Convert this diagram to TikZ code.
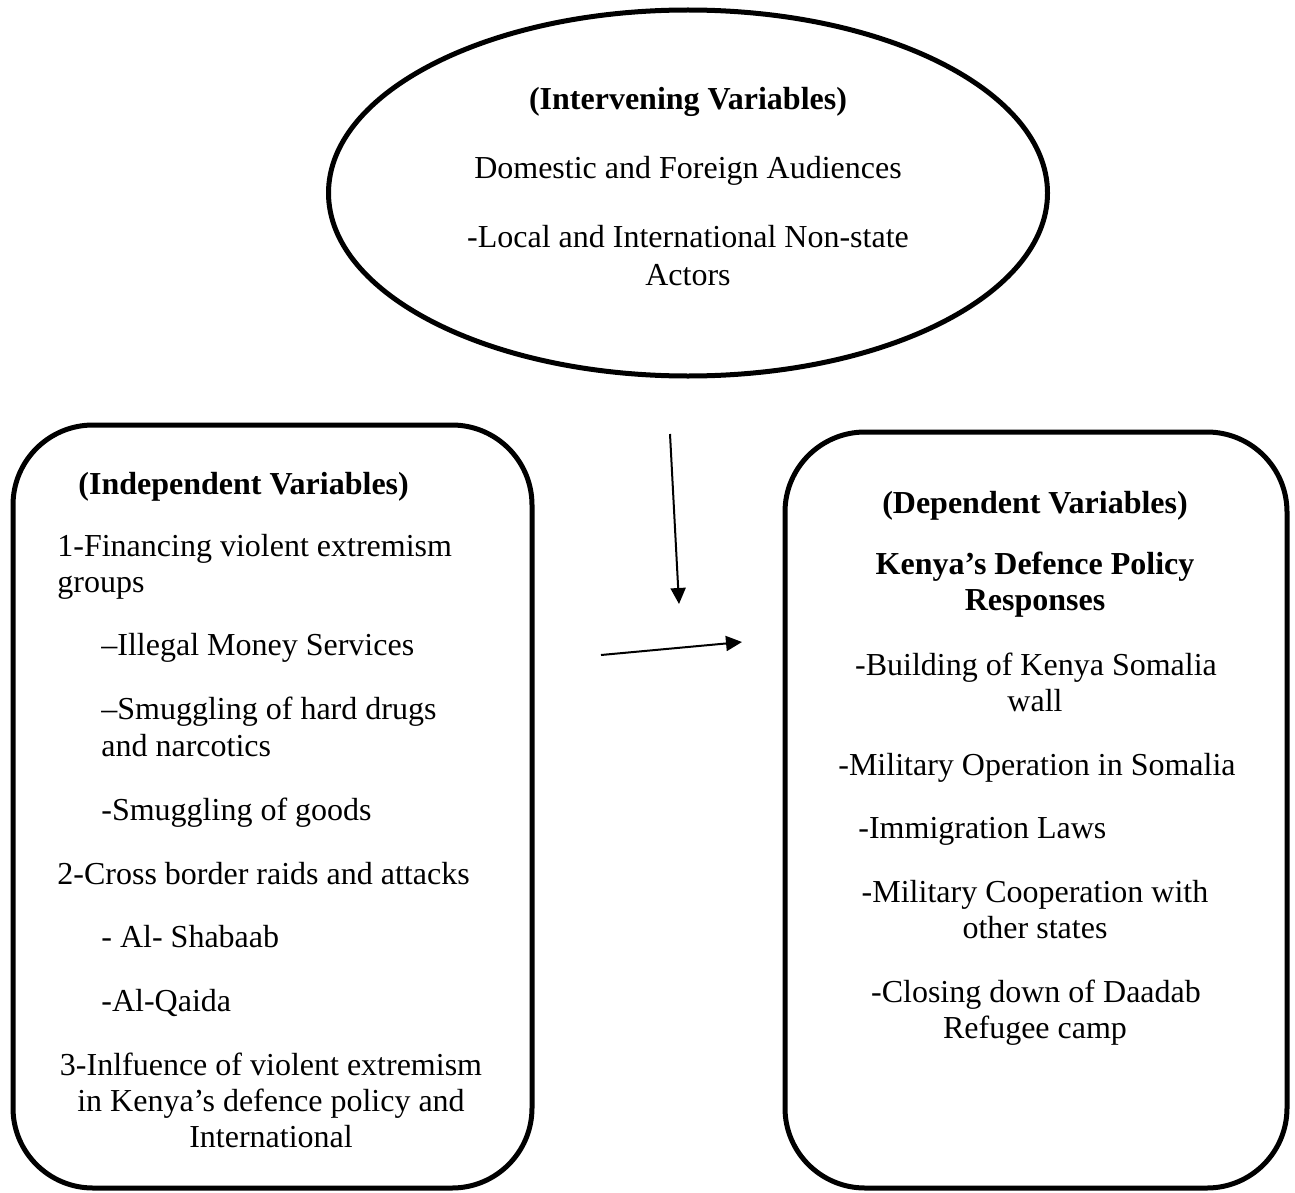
\documentclass[tikz,border=0pt]{standalone}
\usepackage{fontspec}
\setmainfont{Liberation Serif}
\usetikzlibrary{shapes.geometric,arrows.meta}
\begin{document}
\begin{tikzpicture}[x=0.5pt,y=-0.5pt,
		every node/.style={font=\fontsize{16}{18}\selectfont,inner sep=0pt},
		frame/.style={draw,line width=2.5pt,rounded corners=40pt,rectangle},
		ctr/.style={anchor=base},
		lft/.style={anchor=base west},
		heading/.style={font=\fontsize{16}{18}\selectfont\bfseries},
		arr/.style={-{Triangle[length=8pt,width=7.5pt]},line width=1pt}]
	\useasboundingbox (0,0) rectangle (1295,1193);
	\node [draw,ellipse,line width=2.5pt,minimum width=359.5pt,minimum height=183pt] (intervening) at (688,193) {};
	\node [frame,minimum width=259.5pt,minimum height=381.5pt] (independent) at (272.5,806.5) {};
	\node [frame,minimum width=251pt,minimum height=378pt] (dependent) at (1036,810) {};
	\node [ctr,heading] (iv0) at (688,110) {(Intervening Variables)};
	\node [ctr] (iv1) at (688,178) {Domestic and Foreign Audiences};
	\node [ctr] (iv2) at (688,247) {-Local and International Non-state};
	\node [ctr] (iv3) at (688,285) {Actors};
	\node [lft,heading] (in0) at (78,494) {(Independent Variables)};
	\node [lft] (in1) at (57,556) {1-Financing violent extremism};
	\node [lft] (in2) at (57,592) {groups};
	\node [lft] (in3) at (101,655) {\textendash Illegal Money Services};
	\node [lft] (in4) at (101,719) {\textendash Smuggling of hard drugs};
	\node [lft] (in5) at (101,756) {and narcotics};
	\node [lft] (in6) at (101,820) {-Smuggling of goods};
	\node [lft] (in7) at (57,884) {2-Cross border raids and attacks};
	\node [lft] (in8) at (101,947) {- Al- Shabaab};
	\node [lft] (in9) at (101,1011) {-Al-Qaida};
	\node [ctr] (in10) at (271,1075) {3-Inlfuence of violent extremism};
	\node [ctr] (in11) at (271,1111) {in Kenya’s defence policy and};
	\node [ctr] (in12) at (271,1147) {International};
	\node [ctr,heading] (dv0) at (1035,513) {(Dependent Variables)};
	\node [ctr,heading] (dv1) at (1035,574) {Kenya’s Defence Policy};
	\node [ctr,heading] (dv2) at (1035,610) {Responses};
	\node [ctr] (dv3) at (1036,675) {-Building of Kenya Somalia};
	\node [ctr] (dv4) at (1035,711) {wall};
	\node [ctr] (dv5) at (1037,775) {-Military Operation in Somalia};
	\node [lft] (dv6) at (858,838) {-Immigration Laws};
	\node [ctr] (dv7) at (1035,902) {-Military Cooperation with};
	\node [ctr] (dv8) at (1035,938) {other states};
	\node [ctr] (dv9) at (1036,1002) {-Closing down of Daadab};
	\node [ctr] (dv10) at (1035,1038) {Refugee camp};
	\coordinate (down-top) at (670,434);
	\coordinate (down-tip) at (679,604);
	\coordinate (right-tail) at (601,655);
	\coordinate (right-tip) at (742,642);
	\draw [arr] (down-top) -- (down-tip);
	\draw [arr] (right-tail) -- (right-tip);
\end{tikzpicture}
\end{document}
